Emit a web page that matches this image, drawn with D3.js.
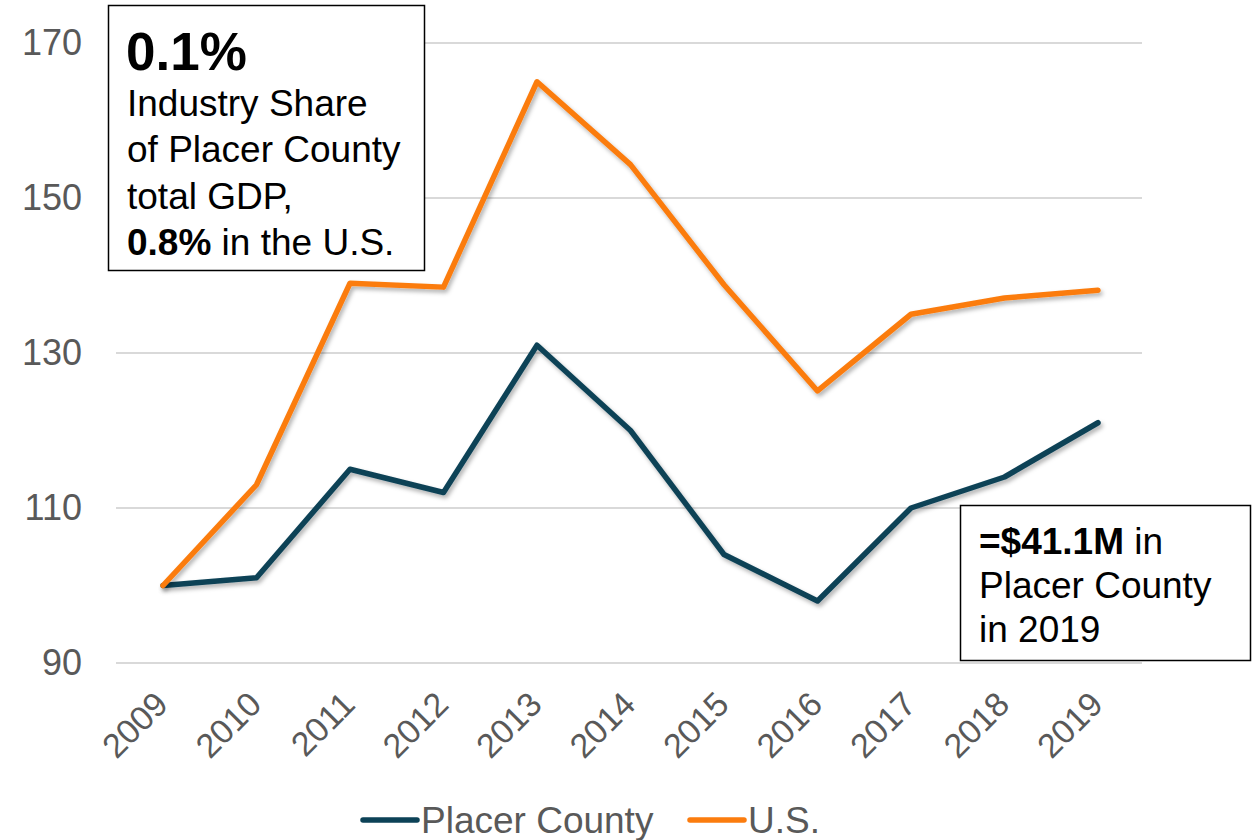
<!DOCTYPE html>
<html>
<head>
<meta charset="utf-8">
<script src="https://cdn.jsdelivr.net/npm/d3@7"></script>
<style>
  body { margin: 0; background: #fff; }
  text { font-family: Arial, "Liberation Sans", sans-serif; }
</style>
</head>
<body>
<div id="chart"></div>
<script>
// data
var years = ["2009", "2010", "2011", "2012", "2013", "2014", "2015", "2016", "2017", "2018", "2019"];
var placer = [100, 101, 115, 112, 131, 120, 104, 98, 110, 114, 121];
var us = [100, 113, 139, 138.5, 165, 154.3, 138.8, 125.1, 135, 137.1, 138.1];
var yTicks = [90, 110, 130, 150, 170];
var seriesNames = ["Placer County", "U.S."];
var colors = ["#0d4257", "#fb7c0e"];

var W = 1252, H = 840;
var svg = d3.select("#chart").append("svg")
    .attr("width", W)
    .attr("height", H);

// drop shadow like the office chart
var defs = svg.append("defs");
var f = defs.append("filter").attr("id", "shadow")
    .attr("x", "-10%").attr("y", "-10%").attr("width", "120%").attr("height", "130%");
f.append("feDropShadow").attr("dx", 2).attr("dy", 3).attr("stdDeviation", 2)
    .attr("flood-color", "#000").attr("flood-opacity", 0.3);

var x = d3.scalePoint().domain(years).range([163, 1098]);
var y = d3.scaleLinear().domain([90, 170]).range([663, 43]);

// gridlines
svg.append("g").selectAll("line")
    .data(yTicks)
    .enter().append("line")
    .attr("x1", 116).attr("x2", 1142)
    .attr("y1", function (d) { return y(d); })
    .attr("y2", function (d) { return y(d); })
    .style("stroke", "#d9d9d9")
    .style("stroke-width", 2);

// y axis labels
var yAxis = svg.append("g")
    .attr("transform", "translate(82,0)")
    .call(d3.axisLeft(y).tickValues(yTicks).tickSize(0).tickPadding(0));
yAxis.attr("font-family", null).attr("font-size", null);
yAxis.select(".domain").remove();
yAxis.selectAll("text")
    .style("font-size", "36px")
    .style("fill", "#595959");

// x axis labels
var xAxis = svg.append("g")
    .attr("transform", "translate(0,680)")
    .call(d3.axisBottom(x).tickSize(0).tickPadding(0));
xAxis.attr("font-family", null).attr("font-size", null);
xAxis.select(".domain").remove();
xAxis.selectAll("text")
    .style("font-size", "34px")
    .style("fill", "#595959")
    .attr("text-anchor", "end")
    .attr("y", 0)
    .attr("dy", "0.35em")
    .attr("transform", "translate(-2,18) rotate(-45)");

// lines
var line = d3.line()
    .x(function (d, i) { return x(years[i]); })
    .y(function (d) { return y(d); });

[placer, us].forEach(function (s, i) {
    svg.append("path")
        .datum(s)
        .attr("d", line)
        .attr("filter", "url(#shadow)")
        .style("fill", "none")
        .style("stroke", colors[i])
        .style("stroke-width", 5.5)
        .style("stroke-linejoin", "round")
        .style("stroke-linecap", "round");
});

// annotation box top left
svg.append("rect")
    .attr("x", 108.5).attr("y", 5.5).attr("width", 316).attr("height", 265)
    .style("fill", "#fff").style("stroke", "#000").style("stroke-width", 1.5);
var t1 = svg.append("text").style("fill", "#000");
t1.append("tspan").attr("x", 126).attr("y", 70)
    .style("font-size", "53px").style("font-weight", "bold").text("0.1%");
["Industry Share", "of Placer County", "total GDP,"].forEach(function (s, i) {
    t1.append("tspan").attr("x", 127).attr("y", 116 + i * 46.3)
        .style("font-size", "37px").text(s);
});
var last = t1.append("tspan").attr("x", 127).attr("y", 255).style("font-size", "37px");
last.append("tspan").style("font-weight", "bold").text("0.8%");
last.append("tspan").text(" in the U.S.");

// annotation box bottom right
svg.append("rect")
    .attr("x", 960.5).attr("y", 505.5).attr("width", 290).attr("height", 155)
    .style("fill", "#fff").style("stroke", "#000").style("stroke-width", 1.5);
var t2 = svg.append("text").style("fill", "#000").style("font-size", "37px");
var l1 = t2.append("tspan").attr("x", 979).attr("y", 554);
l1.append("tspan").style("font-weight", "bold").text("=$41.1M");
l1.append("tspan").text(" in");
t2.append("tspan").attr("x", 979).attr("y", 598).text("Placer County");
t2.append("tspan").attr("x", 979).attr("y", 642).text("in 2019");

// legend
var legX = [363, 690];
seriesNames.forEach(function (n, i) {
    var g = svg.append("g").attr("transform", "translate(" + legX[i] + ",820)");
    g.append("line")
        .attr("x1", 0).attr("x2", 54)
        .style("stroke", colors[i]).style("stroke-width", 5.5)
        .style("stroke-linecap", "round");
    g.append("text")
        .attr("x", 58).attr("dy", "0.36em")
        .style("font-size", "37px").style("fill", "#595959")
        .text(n);
});
</script>
</body>
</html>
